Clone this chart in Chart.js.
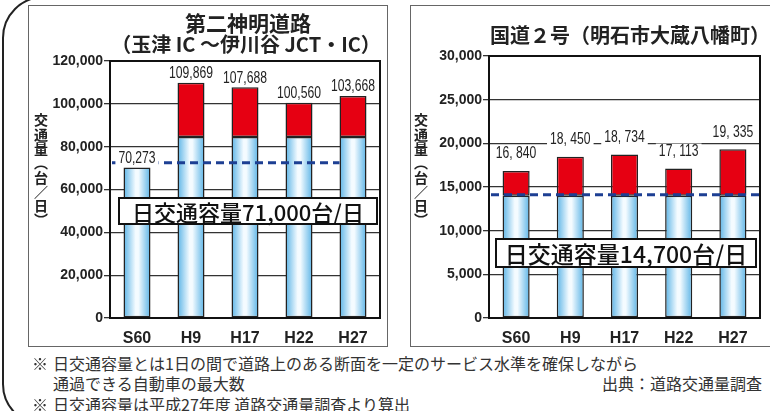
<!DOCTYPE html>
<html>
<head>
<meta charset="utf-8">
<script src="https://cdn.jsdelivr.net/npm/chart.js@4.4.0/dist/chart.umd.min.js"></script>
<style>
body{margin:0;width:770px;height:411px;overflow:hidden;background:#fff;position:relative;font-family:"Noto Sans CJK JP",sans-serif;color:#222}
.abs{position:absolute}
.frame{left:2px;top:-4px;width:900px;height:430px;border:2px solid #222;border-radius:42px;box-sizing:border-box}
.panel{border:1.5px solid #666;box-sizing:border-box;background:#fff}
.ttl{font-weight:700;font-size:21px;white-space:nowrap;transform:translate(-50%,-50%);line-height:1}
.ytitle{writing-mode:vertical-rl;font-weight:700;font-size:14px;line-height:1;letter-spacing:0.3px;transform:translateX(-50%)}
.capbox{border:2px solid #111;background:#fff;box-sizing:border-box;display:flex;align-items:center;justify-content:center;white-space:nowrap;font-weight:500;color:#111}
.note{font-size:16px;line-height:1;white-space:nowrap;color:#333;transform:translateY(-50%)}
canvas{position:absolute}
</style>
</head>
<body>
<div class="abs frame"></div>
<div class="abs panel" style="left:28px;top:5px;width:360px;height:342px"></div>
<div class="abs panel" style="left:410px;top:5px;width:380px;height:342px"></div>
<canvas id="left" width="360" height="342" style="left:28px;top:5px"></canvas>
<canvas id="right" width="360" height="342" style="left:410px;top:5px"></canvas>

<div class="abs ttl" style="left:248px;top:22px">第二神明道路</div>
<div class="abs ttl" style="left:246px;top:44px;font-size:20px">（玉津 IC ～伊川谷 JCT・IC）</div>
<div class="abs ttl" style="left:630px;top:35px;font-size:20px">国道２号（明石市大蔵八幡町）</div>
<div class="abs ytitle" style="left:41px;top:113px">交通量（台／日）</div>
<div class="abs ytitle" style="left:421px;top:113px">交通量（台／日）</div>
<div class="abs capbox" id="capL" style="left:118px;top:197px;width:260px;height:28px;font-size:22px"></div>
<div class="abs capbox" id="capR" style="left:495px;top:238px;width:262px;height:30px;font-size:23px"></div>

<div class="abs note" style="left:32px;top:363px">※</div>
<div class="abs note" style="left:53px;top:363px">日交通容量とは1日の間で道路上のある断面を一定のサービス水準を確保しながら</div>
<div class="abs note" style="left:53px;top:383px">通過できる自動車の最大数</div>
<div class="abs note" style="left:32px;top:404px">※</div>
<div class="abs note" style="left:53px;top:404px">日交通容量は平成27年度 道路交通量調査より算出</div>
<div class="abs note" style="right:8px;top:383px">出典：道路交通量調査</div>

<script>
// data
const years = ['S60', 'H9', 'H17', 'H22', 'H27'];

const leftTotal = [70273, 109869, 107688, 100560, 103668];
const leftBase = [70273, 84500, 84500, 84500, 84500];
const leftTicks = [0, 20000, 40000, 60000, 80000, 100000, 120000];
const leftCapLine = 72500;
const leftCapText = '日交通容量71,000台/日';

const rightTotal = [16840, 18450, 18734, 17113, 19335];
const rightBase = [14000, 14000, 14000, 14000, 14000];
const rightTicks = [0, 5000, 10000, 15000, 20000, 25000, 30000];
const rightCapLine = 14100;
const rightCapText = '日交通容量14,700台/日';

document.getElementById('capL').textContent = leftCapText;
document.getElementById('capR').textContent = rightCapText;

const sans = '"Liberation Sans", Arial, sans-serif';

function blueFill(c) {
  let chart = c.chart;
  let x = chart.scales.x;
  if (!chart.chartArea || !x) return '#8fd0f0';
  let cx = x.getPixelForValue(c.dataIndex);
  let hw = x.width / years.length * 0.25;
  let g = chart.ctx.createLinearGradient(cx - hw, 0, cx + hw, 0);
  g.addColorStop(0, '#5cb4e6');
  g.addColorStop(0.45, '#f4fbff');
  g.addColorStop(0.55, '#f4fbff');
  g.addColorStop(1, '#5cb4e6');
  return g;
}

// frame + dashed line + value labels
const extras = {
  id: 'extras',
  afterDatasetsDraw(chart, args, o) {
    let ctx = chart.ctx, a = chart.chartArea, y = chart.scales.y, x = chart.scales.x;
    ctx.save();
    ctx.strokeStyle = '#111';
    ctx.lineWidth = 2;
    ctx.strokeRect(a.left, a.top, a.right - a.left, a.bottom - a.top);

    let yy = y.getPixelForValue(o.cap);
    ctx.strokeStyle = '#1d3f93';
    ctx.lineWidth = 3;
    ctx.setLineDash([8, 5]);
    ctx.beginPath();
    ctx.moveTo(a.left + 2, yy);
    ctx.lineTo(o.capEnd ? x.getPixelForValue(o.capEnd) - x.width / years.length * 0.25 : a.right, yy);
    ctx.stroke();
    ctx.setLineDash([]);

    // condensed look: squeeze text horizontally
    ctx.font = '16px ' + sans;
    ctx.textAlign = 'center';
    ctx.textBaseline = 'middle';
    o.totals.forEach((v, i) => {
      let t = o.fmt(v);
      let px = x.getPixelForValue(i);
      let py = y.getPixelForValue(v) - o.gap;
      let w = ctx.measureText(t).width * 0.76;
      ctx.fillStyle = '#fff';
      ctx.fillRect(px - w / 2 - 3, py - 8, w + 6, 16);
      ctx.save();
      ctx.translate(px, py);
      ctx.scale(0.76, 1);
      ctx.fillStyle = '#222';
      ctx.fillText(t, 0, 0);
      ctx.restore();
    });
    ctx.restore();
  }
};

function makeChart(id, total, base, ticks, cap, opts) {
  let top = total.map((v, i) => v - base[i]);
  return new Chart(document.getElementById(id), {
    type: 'bar',
    data: {
      labels: years,
      datasets: [
        {data: base, backgroundColor: blueFill, borderColor: '#222', borderWidth: 1.5, borderSkipped: false},
        {data: top, backgroundColor: '#e60012', borderColor: '#222', borderWidth: 1.5, borderSkipped: false}
      ]
    },
    options: {
      responsive: false,
      animation: false,
      events: [],
      categoryPercentage: 1,
      barPercentage: 0.5,
      layout: {padding: {top: opts.top, right: opts.right, left: 0, bottom: 0}},
      plugins: {
        legend: {display: false},
        tooltip: {enabled: false},
        extras: {cap: cap, totals: total, fmt: opts.fmt, gap: opts.gap, capEnd: opts.capEnd}
      },
      scales: {
        x: {
          stacked: true,
          afterFit: s => { s.height = 29; },
          grid: {display: false},
          border: {display: true, color: '#111', width: 2},
          ticks: {color: '#222', padding: 3, font: {family: sans, size: 16, weight: 'bold'}}
        },
        y: {
          stacked: true,
          min: 0,
          max: ticks[ticks.length - 1],
          afterFit: s => { s.width = opts.yw; },
          afterBuildTicks: s => { s.ticks = ticks.map(v => ({value: v})); },
          grid: {color: '#333', lineWidth: 1.3, tickLength: 6, tickColor: '#333'},
          border: {display: true, color: '#111', width: 2},
          ticks: {
            color: '#222',
            padding: 1,
            font: {family: sans, size: 14, weight: 'bold'},
            callback: v => v.toLocaleString('en-US')
          }
        }
      }
    },
    plugins: [extras]
  });
}

makeChart('left', leftTotal, leftBase, leftTicks, leftCapLine, {
  top: 56, right: 8, yw: 82, gap: 9, capEnd: 4,
  fmt: v => v.toLocaleString('en-US')
});
makeChart('right', rightTotal, rightBase, rightTicks, rightCapLine, {
  top: 51, right: 10, yw: 79, gap: 17,
  fmt: v => v.toLocaleString('en-US').replace(',', ', ')
});
</script>
</body>
</html>
